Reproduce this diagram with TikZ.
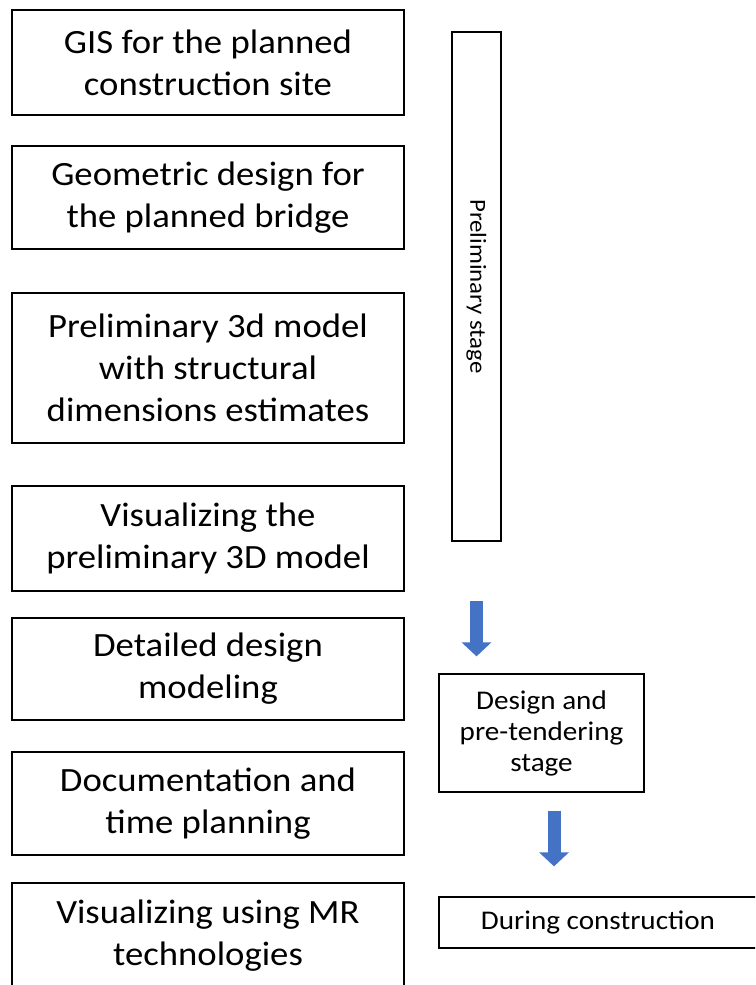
\documentclass[tikz,border=0pt]{standalone}
\usepackage{fontspec}
\setmainfont{Carlito}[FakeStretch=1.08]
\usetikzlibrary{arrows.meta}
\definecolor{stageblue}{RGB}{68,114,196}

\begin{document}
\begin{tikzpicture}[x=1pt,y=-1pt,
  task/.style={draw, line width=1.3pt, minimum width=392pt, inner sep=0pt,
    align=center, font=\fontsize{34}{42}\selectfont},
  stage/.style={draw, line width=1.3pt, inner sep=0pt,
    align=center, font=\fontsize{27}{31}\selectfont},
  flow/.style={stageblue, line width=13pt, -{Triangle[width=29pt,length=14pt]}}]
  \clip (0,0) rectangle (755,985);

  % work steps on the left
  \node[task, minimum height=105pt] (gis) at (208,62.5) {GIS for the planned\\construction site};
  \node[task, minimum height=103pt] (geom) at (208,197.5) {Geometric design for\\the planned bridge};
  \node[task, minimum height=150pt] (prelimmodel) at (208,368) {Preliminary 3d model\\with structural\\dimensions estimates};
  \node[task, minimum height=105pt] (vispre) at (208,538.5) {Visualizing the\\preliminary 3D model};
  \node[task, minimum height=102pt] (detail) at (208,669) {Detailed design\\modeling};
  \node[task, minimum height=103pt] (docu) at (208,803.5) {Documentation and\\time planning};
  \node[task, minimum height=106pt] (mr) at (208,936) {Visualizing using MR\\technologies};

  % stages on the right
  \node[stage, rotate=-90, minimum width=509pt, minimum height=49pt, font=\fontsize{23}{28}\selectfont] (prelim) at (476.5,286.5) {Preliminary stage};
  \node[stage, minimum width=205pt, minimum height=118pt] (design) at (541.5,733) {Design and\\pre-tendering\\stage};
  \node[stage, minimum width=318pt, minimum height=51pt] (during) at (598,922.5) {During construction};

  \draw[flow, shorten <=59pt, shorten >=17pt] (prelim.east) -- (design.north -| prelim.east);
  \draw[flow, shorten <=18pt, shorten >=30pt] ([xshift=12.5pt]design.south) -- ([xshift=12.5pt]design.south |- during.north);
\end{tikzpicture}
\end{document}
